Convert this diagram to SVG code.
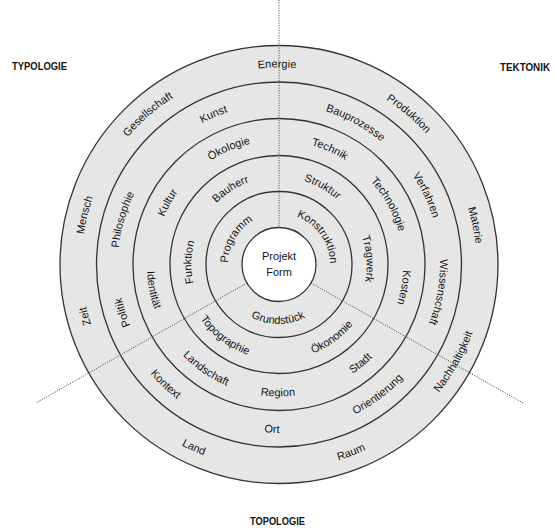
<svg xmlns="http://www.w3.org/2000/svg" xmlns:xlink="http://www.w3.org/1999/xlink" width="557" height="531" viewBox="0 0 557 531">
<style>
.ring{fill:#e6e6e6;stroke:#333;stroke-width:1.3}
.core{fill:#ffffff;stroke:#333;stroke-width:1.3}
.lbl{font-family:"Liberation Sans",Arial,sans-serif;font-size:11px;fill:#141414}
.hdr{font-family:"Liberation Sans",Arial,sans-serif;font-size:11px;font-weight:bold;fill:#141414}
.dot{fill:none;stroke:#555;stroke-width:1;stroke-dasharray:1.2 1.3}
</style>
<defs>
<path id="cw1" d="M253.5,308.67 A51,51 0 1 1 304.5,220.33 A51,51 0 1 1 253.5,308.67"/>
<path id="cw2" d="M235.5,339.84 A87,87 0 1 1 322.5,189.16 A87,87 0 1 1 235.5,339.84"/>
<path id="cw3" d="M217.25,371.45 A123.5,123.5 0 1 1 340.75,157.55 A123.5,123.5 0 1 1 217.25,371.45"/>
<path id="cw4" d="M199,403.06 A160,160 0 1 1 359,125.94 A160,160 0 1 1 199,403.06"/>
<path id="cw5" d="M180.75,434.67 A196.5,196.5 0 1 1 377.25,94.33 A196.5,196.5 0 1 1 180.75,434.67"/>
<path id="ccw1" d="M249.5,213.41 A59,59 0 1 0 308.5,315.59 A59,59 0 1 0 249.5,213.41"/>
<path id="ccw2" d="M231.5,182.23 A95,95 0 1 0 326.5,346.77 A95,95 0 1 0 231.5,182.23"/>
<path id="ccw3" d="M213.25,150.62 A131.5,131.5 0 1 0 344.75,378.38 A131.5,131.5 0 1 0 213.25,150.62"/>
<path id="ccw4" d="M195,119.01 A168,168 0 1 0 363,409.99 A168,168 0 1 0 195,119.01"/>
<path id="ccw5" d="M176.75,87.4 A204.5,204.5 0 1 0 381.25,441.6 A204.5,204.5 0 1 0 176.75,87.4"/>
</defs>

<g id="rings">
<circle class="ring" cx="279" cy="264.5" r="219"/>
<circle class="ring" cx="279" cy="264.5" r="182.5"/>
<circle class="ring" cx="279" cy="264.5" r="146"/>
<circle class="ring" cx="279" cy="264.5" r="109"/>
<circle class="ring" cx="279" cy="264.5" r="73"/>
<circle class="core" cx="279" cy="264.5" r="37"/>
</g>

<g id="connectors">
<line class="dot" x1="279" y1="0" x2="279" y2="227.5"/>
<line class="dot" x1="247" y1="283" x2="36" y2="403"/>
<line class="dot" x1="311" y1="283" x2="523" y2="403"/>
</g>

<g id="center">
<text class="lbl" x="279" y="260" text-anchor="middle" font-size="11.5">Projekt</text>
<text class="lbl" x="279" y="276" text-anchor="middle" font-size="11.5">Form</text>
</g>

<g id="typologie"><text class="hdr" x="12" y="70" textLength="55" lengthAdjust="spacingAndGlyphs">TYPOLOGIE</text></g>
<g id="tektonik"><text class="hdr" x="500" y="71" textLength="50" lengthAdjust="spacingAndGlyphs">TEKTONIK</text></g>
<g id="topologie"><text class="hdr" x="250" y="525" textLength="55" lengthAdjust="spacingAndGlyphs">TOPOLOGIE</text></g>

<g id="ring5-labels">
<g id="zeit"><text class="lbl" text-anchor="middle"><textPath xlink:href="#cw5" href="#cw5" startOffset="154.7">Zeit</textPath></text></g>
<g id="mensch"><text class="lbl" text-anchor="middle"><textPath xlink:href="#cw5" href="#cw5" startOffset="255.5">Mensch</textPath></text></g>
<g id="gesellschaft"><text class="lbl" text-anchor="middle"><textPath xlink:href="#cw5" href="#cw5" startOffset="374.9">Gesellschaft</textPath></text></g>
<g id="energie"><text class="lbl" text-anchor="middle"><textPath xlink:href="#cw5" href="#cw5" startOffset="514.4">Energie</textPath></text></g>
<g id="produktion"><text class="lbl" text-anchor="middle"><textPath xlink:href="#cw5" href="#cw5" startOffset="656.1">Produktion</textPath></text></g>
<g id="materie"><text class="lbl" text-anchor="middle"><textPath xlink:href="#cw5" href="#cw5" startOffset="786.7">Materie</textPath></text></g>
<g id="land"><text class="lbl" text-anchor="middle"><textPath xlink:href="#ccw5" href="#ccw5" startOffset="447.6">Land</textPath></text></g>
<g id="raum"><text class="lbl" text-anchor="middle"><textPath xlink:href="#ccw5" href="#ccw5" startOffset="611.8">Raum</textPath></text></g>
<g id="nachhaltigkeit"><text class="lbl" text-anchor="middle"><textPath xlink:href="#ccw5" href="#ccw5" startOffset="754.5">Nachhaltigkeit</textPath></text></g>
</g>

<g id="ring4-labels">
<g id="politik"><text class="lbl" text-anchor="middle"><textPath xlink:href="#cw4" href="#cw4" startOffset="120.1">Politik</textPath></text></g>
<g id="philosophie"><text class="lbl" text-anchor="middle"><textPath xlink:href="#cw4" href="#cw4" startOffset="213.1">Philosophie</textPath></text></g>
<g id="kunst"><text class="lbl" text-anchor="middle"><textPath xlink:href="#cw4" href="#cw4" startOffset="354.6">Kunst</textPath></text></g>
<g id="bauprozesse"><text class="lbl" text-anchor="middle"><textPath xlink:href="#cw4" href="#cw4" startOffset="499.9">Bauprozesse</textPath></text></g>
<g id="verfahren"><text class="lbl" text-anchor="middle"><textPath xlink:href="#cw4" href="#cw4" startOffset="601.8">Verfahren</textPath></text></g>
<g id="wissenschaft"><text class="lbl" text-anchor="middle"><textPath xlink:href="#cw4" href="#cw4" startOffset="700.1">Wissenschaft</textPath></text></g>
<g id="kontext"><text class="lbl" text-anchor="middle"><textPath xlink:href="#ccw4" href="#ccw4" startOffset="313.5">Kontext</textPath></text></g>
<g id="ort"><text class="lbl" text-anchor="middle"><textPath xlink:href="#ccw4" href="#ccw4" startOffset="434">Ort</textPath></text></g>
<g id="orientierung"><text class="lbl" text-anchor="middle"><textPath xlink:href="#ccw4" href="#ccw4" startOffset="550.4">Orientierung</textPath></text></g>
</g>

<g id="ring3-labels">
<g id="kultur"><text class="lbl" text-anchor="middle"><textPath xlink:href="#cw3" href="#cw3" startOffset="192.5">Kultur</textPath></text></g>
<g id="oekologie"><text class="lbl" text-anchor="middle"><textPath xlink:href="#cw3" href="#cw3" startOffset="274.4">Ökologie</textPath></text></g>
<g id="technik"><text class="lbl" text-anchor="middle"><textPath xlink:href="#cw3" href="#cw3" startOffset="376.1">Technik</textPath></text></g>
<g id="technologie"><text class="lbl" text-anchor="middle"><textPath xlink:href="#cw3" href="#cw3" startOffset="457">Technologie</textPath></text></g>
<g id="kosten"><text class="lbl" text-anchor="middle"><textPath xlink:href="#cw3" href="#cw3" startOffset="541.9">Kosten</textPath></text></g>
<g id="identitaet"><text class="lbl" text-anchor="middle"><textPath xlink:href="#ccw3" href="#ccw3" startOffset="164.3">Identität</textPath></text></g>
<g id="landschaft"><text class="lbl" text-anchor="middle"><textPath xlink:href="#ccw3" href="#ccw3" startOffset="264.9">Landschaft</textPath></text></g>
<g id="region"><text class="lbl" text-anchor="middle"><textPath xlink:href="#ccw3" href="#ccw3" startOffset="344.3">Region</textPath></text></g>
<g id="stadt"><text class="lbl" text-anchor="middle"><textPath xlink:href="#ccw3" href="#ccw3" startOffset="436.3">Stadt</textPath></text></g>
</g>

<g id="ring2-labels">
<g id="funktion"><text class="lbl" text-anchor="middle"><textPath xlink:href="#cw2" href="#cw2" startOffset="93.5">Funktion</textPath></text></g>
<g id="bauherr"><text class="lbl" text-anchor="middle"><textPath xlink:href="#cw2" href="#cw2" startOffset="179">Bauherr</textPath></text></g>
<g id="struktur"><text class="lbl" text-anchor="middle"><textPath xlink:href="#cw2" href="#cw2" startOffset="273.3">Struktur</textPath></text></g>
<g id="tragwerk"><text class="lbl" text-anchor="middle"><textPath xlink:href="#cw2" href="#cw2" startOffset="360.2">Tragwerk</textPath></text></g>
<g id="topographie"><text class="lbl" text-anchor="middle"><textPath xlink:href="#ccw2" href="#ccw2" startOffset="187.7">Topographie</textPath></text></g>
<g id="oekonomie"><text class="lbl" text-anchor="middle"><textPath xlink:href="#ccw2" href="#ccw2" startOffset="309.2">Ökonomie</textPath></text></g>
</g>

<g id="ring1-labels">
<g id="programm"><text class="lbl" text-anchor="middle"><textPath xlink:href="#cw1" href="#cw1" startOffset="80.6">Programm</textPath></text></g>
<g id="konstruktion"><text class="lbl" text-anchor="middle"><textPath xlink:href="#cw1" href="#cw1" startOffset="181.8">Konstruktion</textPath></text></g>
<g id="grundstueck"><text class="lbl" text-anchor="middle"><textPath xlink:href="#ccw1" href="#ccw1" startOffset="154.5">Grundstück</textPath></text></g>
</g>
</svg>
